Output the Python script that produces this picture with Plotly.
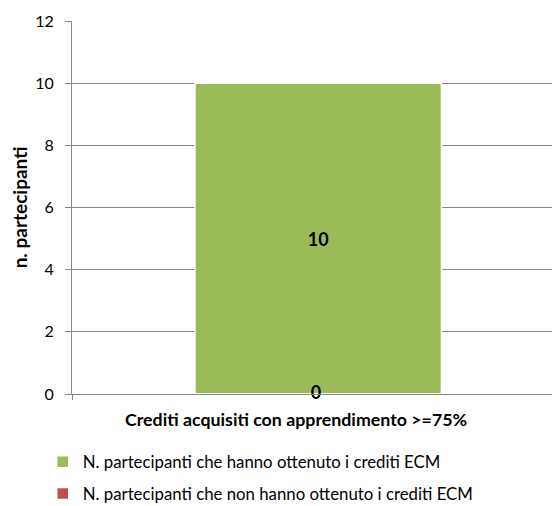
import plotly.graph_objects as go

categories = ["Crediti acquisiti con apprendimento >=75%"]
series_names = ["N. partecipanti che hanno ottenuto i crediti ECM",
                "N. partecipanti che non hanno ottenuto i crediti ECM"]
ottenuto = [10]
non_ottenuto = [0]
y_ticks = [0, 2, 4, 6, 8, 10, 12]

FONT = "Lato, Open Sans, sans-serif"
GREEN = "#9BBB59"
RED = "#C0504D"
GRID = "#868686"

fig = go.Figure()
fig.add_trace(go.Bar(
    x=categories, y=ottenuto, name=series_names[0],
    marker=dict(color=GREEN, line=dict(color="white", width=1.5)),
    width=0.505, offset=-0.248, text=[str(v) for v in ottenuto], textposition="inside",
    insidetextanchor="middle",
    textfont=dict(family=FONT, size=18, color="black", weight="bold"),
    legendgroup="a", hoverinfo="skip"))
fig.add_trace(go.Bar(
    x=categories, y=non_ottenuto, name=series_names[1],
    marker=dict(color=RED, line=dict(color="white", width=1.5)),
    width=0.505, offset=-0.248, legendgroup="b", hoverinfo="skip"))
fig.add_trace(go.Scatter(
    x=categories, y=non_ottenuto, mode="text",
    text=[str(v) for v in non_ottenuto], textposition="middle center",
    textfont=dict(family=FONT, size=18, color="black", weight="bold"),
    showlegend=False, hoverinfo="skip", cliponaxis=False))

# category label drawn as annotation (Excel places it slightly left of center)
fig.add_annotation(
    x=categories[0], y=0, yref="y", xref="x", text=categories[0], showarrow=False,
    yanchor="top", yshift=-12, xshift=-20,
    font=dict(family=FONT, size=17.8, color="black", weight="bold"))

# page body has an 8px default margin: figure is sized/offset to compensate
fig.update_layout(
    width=552, height=498,
    margin=dict(l=64, r=0, t=13, b=112, autoexpand=False),
    paper_bgcolor="white", plot_bgcolor="white",
    barmode="overlay",
    font=dict(family=FONT, size=16, color="black"),
    showlegend=True,
    legend=dict(orientation="v", x=-0.06, xanchor="left", y=-0.135, yanchor="top",
                font=dict(family=FONT, size=16.8, color="black"),
                tracegroupgap=7, itemwidth=30, bgcolor="rgba(0,0,0,0)"),
)
fig.update_xaxes(
    range=[-0.5, 0.5], showline=True, linecolor=GRID, linewidth=1,
    showgrid=False, ticks="outside", tickson="boundaries", ticklen=5, tickcolor=GRID,
    showticklabels=False, automargin=False)
fig.update_yaxes(
    range=[0, 12], tickvals=y_ticks, showline=True, linecolor=GRID, linewidth=1,
    showgrid=True, gridcolor=GRID, gridwidth=1, ticks="outside", ticklen=6,
    tickcolor=GRID, tickfont=dict(family=FONT, size=16, color="black"),
    zeroline=False, automargin=False, ticklabelstandoff=8,
    title=dict(text="n. partecipanti", font=dict(family=FONT, size=19, color="black", weight="bold"),
               standoff=6))

fig.write_html("out.html")
